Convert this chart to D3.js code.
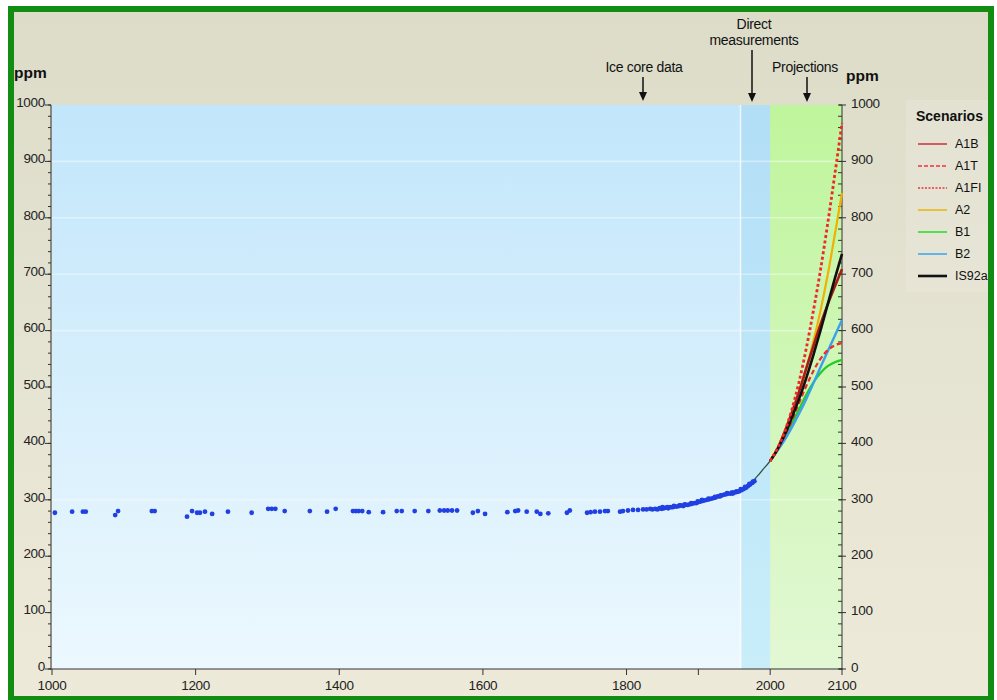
<!DOCTYPE html>
<html><head><meta charset="utf-8">
<script src="https://cdn.jsdelivr.net/npm/d3@7"></script>
<style>html,body{margin:0;padding:0;background:#fff;}svg{display:block;font-family:"Liberation Sans",Arial,Helvetica,sans-serif;}</style>
</head><body>
<svg id="c" width="997" height="700"></svg>
<script>
// ---------- DATA ----------
const yearTicks = [1000,1200,1400,1600,1800,2000,2100];
const yearMinorTicks = [1900];
const ppmTicks = [0,100,200,300,400,500,600,700,800,900,1000];
const gridPpm = [300,600,700,800,900];

// ice core data (year, ppm)
const iceYears = [1004,1028,1043,1047,1088,1092,1139,1143,1188,1195,1202,1206,1213,1223,1245,1278,1301,1306,1311,1324,1359,1383,
 1395,1419,1423,1427,1432,1441,1461,1480,1487,1505,1524,1540,1546,1551,1557,1564,1586,1593,1603,1634,1645,1649,1661,1675,1680,1691,
 1717,1721,1745,1750,1756,1763,1770,1774,1791,1795,1802,1809,1816,1823,1828,1833,
 1836,1840,1843,1846,1849,1852,1855,1858,1861,1864,1867,1870,1873,1876,1879,1882,1885,1888,1891,1894,1897,1900,1903,1906,1909,1912,
 1915,1918,1921,1924,1927,1930,1933,1936,1939,1942,1945,1948,1951,1954,1957,1960,1963,1966,1969,1972,1975,1978,
 1850,1857,1866,1874,1881,1890,1899,1905,1914,1923,1931,1940,1947,1953,1959,1965,1971,1976];
const icePpm = [277,279,279,279,273,280,280,280,270,280,277,277,279,275,279,277,284,284,284,280,280,279,
 284,280,280,280,280,278,278,280,280,280,280,281,281,281,281,281,277,280,275,278,280,281,279,279,275,276,
 277,281,277,278,279,279,280,280,279,280,281,282,282,283,283,284,
 283,284,283,285,284,285,286,285,287,287,288,288,289,290,289,291,291,292,293,294,294,296,297,298,299,300,
 301,302,303,304,306,306,308,309,310,311,311,311,313,314,315,317,319,321,324,327,330,333,
 287,287,289,290,292,294,297,300,302,305,308,312,313,315,319,323,328,332];

// direct measurements
const directYears = [1958,1960,1965,1970,1975,1980,1985,1990,1995,2000];
const directPpm   = [315,317,320,326,331,339,346,354,361,369];

// projections
const projYears = [2000,2010,2020,2030,2040,2050,2060,2070,2080,2090,2100];
const scenarioNames = ["A1B","A1T","A1FI","A2","B1","B2","IS92a"];
const A1B   = [369,390,420,454,491,532,572,611,646,678,709];
const A1T   = [369,389,412,440,471,501,528,550,565,574,578];
const A1FI  = [369,391,420,459,508,567,634,707,789,877,968];
const A2    = [369,390,417,451,490,532,580,635,698,770,844];
const B1    = [369,389,411,435,460,486,508,525,537,544,548];
const B2    = [369,387,406,428,452,478,506,535,563,591,619];
const IS92a = [369,389,415,445,478,515,556,600,646,692,736];
const scenarioValues = {A1B, A1T, A1FI, A2, B1, B2, IS92a};
const legendLabels = ["A1B","A1T","A1FI","A2","B1","B2","IS92a"];

// ---------- STYLES ----------
const sty = {
  A1B:  {plot:"#a81c16", leg:"#cc2030", w:2.6, lw:1.4, dash:null, ldash:null},
  A1T:  {plot:"#ee2a2a", leg:"#ee3344", w:2.2, lw:1.3, dash:"5,3", ldash:"4,2"},
  A1FI: {plot:"#f02828", leg:"#ee3344", w:2.8, lw:1.3, dash:"3,2.5", ldash:"2,1.5"},
  A2:   {plot:"#f2b000", leg:"#e8b818", w:2.2, lw:1.6, dash:null, ldash:null},
  B1:   {plot:"#22cc22", leg:"#33dd33", w:2.2, lw:1.6, dash:null, ldash:null},
  B2:   {plot:"#3aa0f0", leg:"#44a8ee", w:2.4, lw:1.6, dash:null, ldash:null},
  IS92a:{plot:"#111111", leg:"#111111", w:2.6, lw:2.6, dash:null, ldash:null}
};
const drawOrder = ["B1","B2","A1T","A2","A1B","IS92a","A1FI"];

// ---------- SCALES ----------
const svg = d3.select("#c");
const x = d3.scaleLinear().domain([1000,2100]).range([52,842]);
const y = d3.scaleLinear().domain([0,1000]).range([669,105]);

const defs = svg.append("defs");
function vgrad(id, top, bot){
  const g = defs.append("linearGradient").attr("id",id).attr("x1",0).attr("y1",0).attr("x2",0).attr("y2",1);
  g.append("stop").attr("offset","0%").attr("stop-color",top);
  g.append("stop").attr("offset","100%").attr("stop-color",bot);
}
vgrad("bgG","#dcdcc9","#eeead9");
vgrad("blueG","#c2e6fb","#ecf8fe");
vgrad("bandG","#b2def6","#c9eefa");
vgrad("greenG","#bff59c","#e2f8d4");

// page background
svg.append("rect").attr("x",0).attr("y",0).attr("width",997).attr("height",700).attr("fill","#fff");
svg.append("rect").attr("x",11).attr("y",9).attr("width",980).attr("height",700).attr("fill","url(#bgG)");

// legend area (subtle lighter)
svg.append("rect").attr("x",906).attr("y",100).attr("width",85).attr("height",192).attr("fill","#f3f1e8").attr("opacity",0.25);

// plot backgrounds
svg.append("rect").attr("x",x(1000)).attr("y",y(1000)).attr("width",x(1960)-x(1000)).attr("height",y(0)-y(1000)).attr("fill","url(#blueG)");
svg.append("rect").attr("x",x(1960)).attr("y",y(1000)).attr("width",x(2000)-x(1960)).attr("height",y(0)-y(1000)).attr("fill","url(#bandG)");
svg.append("rect").attr("x",x(2000)).attr("y",y(1000)).attr("width",x(2100)-x(2000)).attr("height",y(0)-y(1000)).attr("fill","url(#greenG)");
svg.append("line").attr("x1",x(1960)-1).attr("x2",x(1960)-1).attr("y1",y(1000)).attr("y2",y(0)).attr("stroke","#fff").attr("stroke-width",1.5).attr("opacity",0.7);

// faint white gridlines
svg.append("g").selectAll("line").data(gridPpm).join("line")
  .attr("x1",x(1000)).attr("x2",x(2100)).attr("y1",d=>y(d)).attr("y2",d=>y(d))
  .attr("stroke","#fff").attr("stroke-width",1.6).attr("opacity",0.4);

// ---------- AXES ----------
const axCol = "#333";
const tickFont = 13.5;
const gl = svg.append("g");
gl.append("line").attr("x1",51).attr("x2",51).attr("y1",y(1000)).attr("y2",y(0)).attr("stroke",axCol);
gl.selectAll(".mn").data(d3.range(0,1001,20)).join("line").attr("x1",48).attr("x2",51).attr("y1",d=>y(d)).attr("y2",d=>y(d)).attr("stroke",axCol);
gl.selectAll(".mj").data(ppmTicks).join("line").attr("x1",45).attr("x2",51).attr("y1",d=>y(d)).attr("y2",d=>y(d)).attr("stroke",axCol);
gl.selectAll("text").data(ppmTicks).join("text").attr("x",45).attr("y",d=>y(d)-3).attr("dy","0.35em")
  .attr("text-anchor","end").attr("font-size",tickFont).attr("letter-spacing",-0.3).attr("fill","#222").text(d=>d);
const gr = svg.append("g");
gr.append("line").attr("x1",842).attr("x2",842).attr("y1",y(1000)).attr("y2",y(0)).attr("stroke",axCol);
gr.selectAll(".mn").data(d3.range(0,1001,20)).join("line").attr("x1",838).attr("x2",842).attr("y1",d=>y(d)).attr("y2",d=>y(d)).attr("stroke",axCol);
gr.selectAll(".mj").data(ppmTicks).join("line").attr("x1",839).attr("x2",846).attr("y1",d=>y(d)).attr("y2",d=>y(d)).attr("stroke",axCol);
gr.selectAll("text").data(ppmTicks).join("text").attr("x",851).attr("y",d=>y(d)-2).attr("dy","0.35em")
  .attr("text-anchor","start").attr("font-size",tickFont).attr("letter-spacing",-0.3).attr("fill","#222").text(d=>d);
const gb = svg.append("g");
gb.append("line").attr("x1",50).attr("x2",843).attr("y1",669).attr("y2",669).attr("stroke",axCol).attr("stroke-width",1.2);
gb.selectAll(".mj").data(yearTicks.concat(yearMinorTicks)).join("line").attr("x1",d=>x(d)).attr("x2",d=>x(d)).attr("y1",669).attr("y2",675).attr("stroke",axCol);
gb.selectAll("text").data(yearTicks).join("text").attr("x",d=>x(d)).attr("y",690)
  .attr("text-anchor","middle").attr("font-size",tickFont).attr("letter-spacing",-0.3).attr("fill","#222").text(d=>d);

// ---------- DATA MARKS ----------
const lineGen = d3.line().x(d=>x(d[0])).y(d=>y(d[1])).curve(d3.curveMonotoneX);
svg.append("path").attr("d",lineGen(directYears.map((yr,i)=>[yr,directPpm[i]])))
  .attr("fill","none").attr("stroke","#2f4a3a").attr("stroke-width",1.3);

svg.append("g").selectAll("circle").data(iceYears.map((yr,i)=>[yr,icePpm[i]])).join("circle")
  .attr("cx",d=>x(d[0])).attr("cy",d=>y(d[1])).attr("r",2.4).attr("fill","#2040e2");

drawOrder.forEach(name=>{
  const s = sty[name];
  const p = svg.append("path").attr("d",lineGen(projYears.map((yr,i)=>[yr,scenarioValues[name][i]])))
    .attr("fill","none").attr("stroke",s.plot).attr("stroke-width",s.w);
  if(s.dash) p.attr("stroke-dasharray",s.dash);
});

// ---------- ANNOTATIONS ----------
svg.append("text").attr("x",14).attr("y",78).attr("font-size",15.5).attr("font-weight","bold").attr("fill","#111").text("ppm");
svg.append("text").attr("x",846).attr("y",81).attr("font-size",15.5).attr("font-weight","bold").attr("fill","#111").text("ppm");

function arrow(xp, y0, y1){
  svg.append("line").attr("x1",xp).attr("x2",xp).attr("y1",y0).attr("y2",y1-6).attr("stroke","#111").attr("stroke-width",1.5);
  svg.append("path").attr("d",`M${xp-4},${y1-9}L${xp+4},${y1-9}L${xp},${y1}Z`).attr("fill","#111");
}
const ann = [
  {lines:["Ice core data"], xc:644, y0:72, ax:643, a0:77, a1:101},
  {lines:["Direct","measurements"], xc:754, y0:29, ax:752, a0:50, a1:102},
  {lines:["Projections"], xc:805, y0:72, ax:807, a0:77, a1:102}
];
ann.forEach(a=>{
  a.lines.forEach((t,i)=>{
    svg.append("text").attr("x",a.xc).attr("y",a.y0+i*16).attr("text-anchor","middle").attr("font-size",14)
      .attr("letter-spacing",-0.3).attr("fill","#111").text(t);
  });
  arrow(a.ax,a.a0,a.a1);
});

// legend
svg.append("text").attr("x",916).attr("y",121).attr("font-size",14).attr("font-weight","bold").attr("fill","#111").text("Scenarios");
const lg = svg.append("g");
scenarioNames.forEach((name,i)=>{
  const s = sty[name];
  const yy = 144 + i*22;
  const l = lg.append("line").attr("x1",918).attr("x2",947).attr("y1",yy).attr("y2",yy).attr("stroke",s.leg).attr("stroke-width",s.lw);
  if(s.ldash) l.attr("stroke-dasharray",s.ldash);
  lg.append("text").attr("x",955).attr("y",yy).attr("dy","0.35em").attr("font-size",12.5).attr("fill","#111").text(legendLabels[i]);
});

// green frame
svg.append("rect").attr("x",11).attr("y",9).attr("width",980).attr("height",690)
  .attr("fill","none").attr("stroke","#128c12").attr("stroke-width",6);
</script>
</body></html>
